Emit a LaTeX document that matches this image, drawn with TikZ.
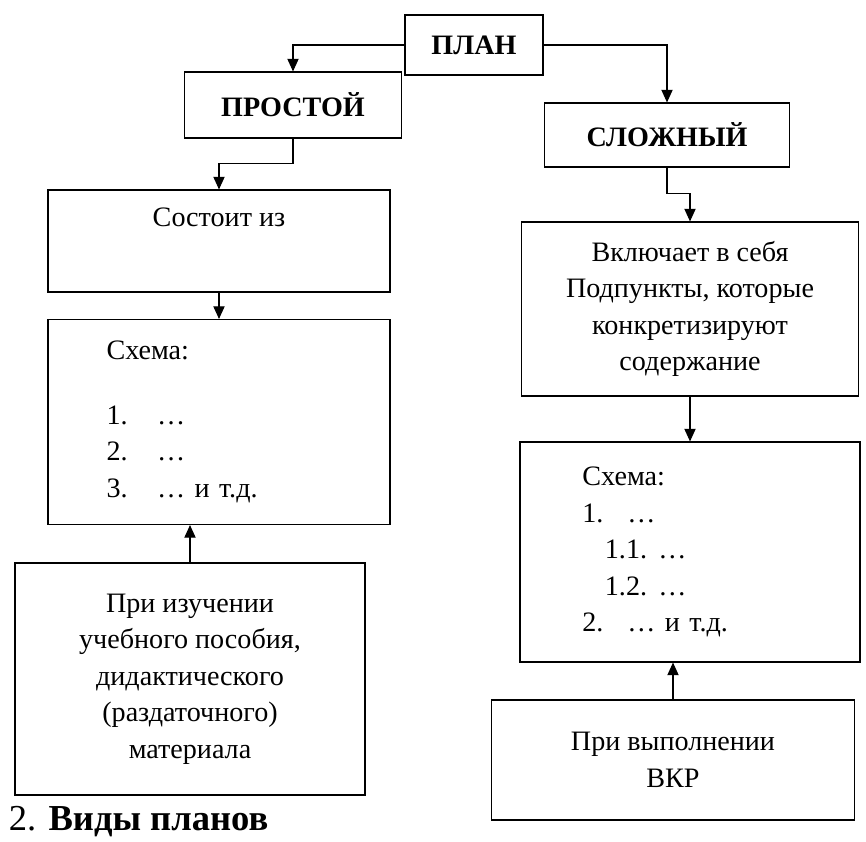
\documentclass[tikz,border=0pt]{standalone}
\usepackage{fontspec}
\setmainfont{Liberation Serif}
\usetikzlibrary{positioning,arrows.meta}

\tikzset{
  box/.style={draw, line width=0.8pt, align=center, inner sep=4pt},
  dim/.style 2 args={minimum width=#1*0.025cm, minimum height=#2*0.025cm},
  title/.style={font=\fontsize{20}{26}\selectfont\bfseries},
  arr/.style={-{Triangle[width=8pt,length=9pt]}, line width=0.8pt},
}

\begin{document}
\begin{tikzpicture}[x=0.025cm, y=-0.025cm, font=\fontsize{20}{26}\selectfont]
    \useasboundingbox (0,0) rectangle (866,841);

    \node(plan)  [box, title, dim={138}{60}]  at (474,45)  {ПЛАН};
    \node(prost) [box, title, dim={217}{66}]  at (293,105) {ПРОСТОЙ};
    \node(slozh) [box, title, dim={245}{64}]  at (667,135) {СЛОЖНЫЙ};
    \node(sost)  [box, dim={342}{102}] at (219,241) {Состоит из\\\strut};
    \node(vkl)   [box, dim={337}{174}] at (690,309)
        {Включает в себя\\Подпункты, которые\\конкретизируют\\содержание};
    \node(sh1)   [box, dim={342}{205}, align=left, text width=160pt, inner xsep=41pt] at (219,422)
        {Схема:\\[20pt]
         \makebox[1.8em][l]{1.}\ldots\\
         \makebox[1.8em][l]{2.}\ldots\\
         \makebox[1.8em][l]{3.}\ldots{} и т.д.};
    \node(sh2)   [box, dim={340}{220}, align=left, text width=153pt, inner xsep=44pt] at (690,552)
        {Схема:\\
         \makebox[1.6em][l]{1.}\ldots\\
         \hspace*{0.8em}\makebox[1.9em][l]{1.1.}\ldots\\
         \hspace*{0.8em}\makebox[1.9em][l]{1.2.}\ldots\\
         \makebox[1.6em][l]{2.}\ldots{} и т.д.};
    \node(izuch) [box, dim={350}{232}] at (190,679)
        {При изучении\\учебного пособия,\\дидактического\\(раздаточного)\\материала};
    \node(vyp)   [box, dim={363}{120}] at (673,760) {При выполнении\\ВКР};
    \node(cap)   [anchor=base west, font=\fontsize{26}{30}\selectfont] at (4,830)
        {2. \textbf{Виды планов}};

    \draw[arr] (plan.west) -| (prost.north);
    \draw[arr] (plan.east) -| (slozh.north);
    \draw[arr] (prost.south) -- ++(0,25) -| (sost.north);
    \draw[arr] (slozh.south) -- ++(0,26) -| (vkl.north);
    \draw[arr] (sost) -- (sh1);
    \draw[arr] (vkl) -- (sh2);
    \draw[arr] (izuch.north) -- (izuch.north |- sh1.south);
    \draw[arr] (vyp.north) -- (vyp.north |- sh2.south);
\end{tikzpicture}
\end{document}
